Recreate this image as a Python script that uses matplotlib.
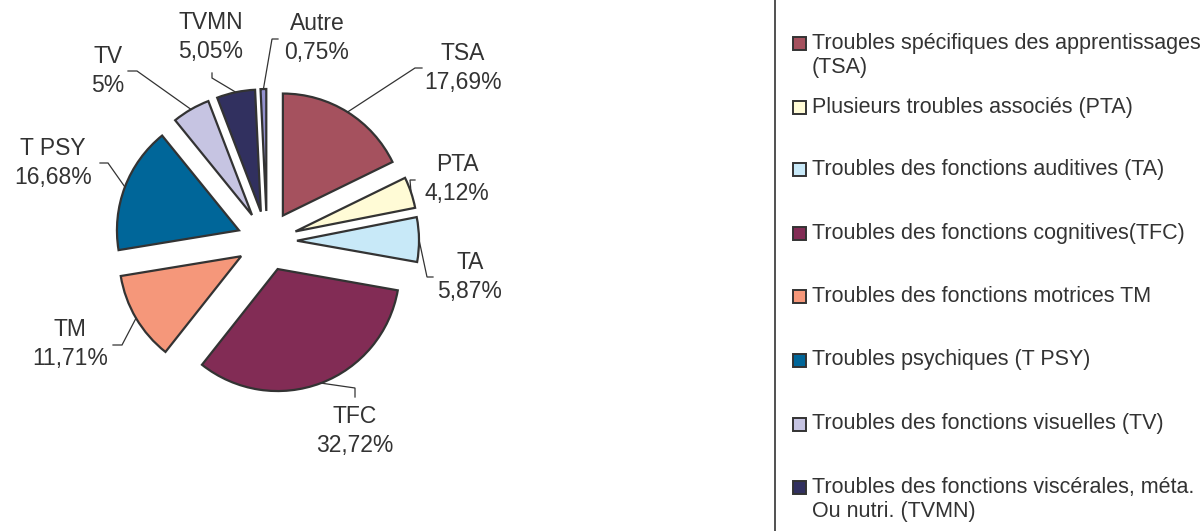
import numpy as np
import matplotlib
matplotlib.use("Agg")
import matplotlib.pyplot as plt
from matplotlib.patches import Rectangle

plt.rcParams['font.family'] = ['Liberation Sans', 'DejaVu Sans']

# data
codes = ['TSA', 'PTA', 'TA', 'TFC', 'TM', 'T PSY', 'TV', 'TVMN', 'Autre']
values = [17.69, 4.12, 5.87, 32.72, 11.71, 16.68, 5, 5.05, 0.75]
pct_labels = ['17,69%', '4,12%', '5,87%', '32,72%', '11,71%', '16,68%', '5%', '5,05%', '0,75%']
colors = ['#A5515E', '#FFFBD6', '#C8E9F8', '#822C55', '#F5977A',
          '#006699', '#C6C4E2', '#31305F', '#9391CE']
legend_names = ['Troubles spécifiques des apprentissages\n(TSA)',
                'Plusieurs troubles associés (PTA)',
                'Troubles des fonctions auditives (TA)',
                'Troubles des fonctions cognitives(TFC)',
                'Troubles des fonctions motrices TM',
                'Troubles psychiques (T PSY)',
                'Troubles des fonctions visuelles (TV)',
                'Troubles des fonctions viscérales, méta.\nOu nutri. (TVMN)']

W, H = 1204, 531
cx, cy = 267, 241      # pie centre (pixels, y down)
R = 122
EXP = 30               # explode distance, pixels

# label text centre and elbow of leader line (pixels, y down)
label_pos = [(463, 68), (457, 179), (470, 277), (355, 431), (70, 344),
             (53, 163), (108, 71), (211, 37), (317, 38)]
elbows = [[(415, 68), (422, 68)], [(410, 180), (415, 180)], [(427, 277), (433, 277)],
          [(355, 388), (355, 397)], [(122, 345), (113, 345)], [(108, 163), (100, 163)],
          [(137, 71), (128, 71)], [(212, 78), (212, 73)], [(272, 39), (278, 39)]]

fig = plt.figure(figsize=(W / 100, H / 100), dpi=100)
ax = fig.add_axes([0, 0, 1, 1])

# y axis inverted -> counterclock in data is clockwise on screen
ax.pie(values, colors=colors, startangle=-90, counterclock=True,
       center=(cx, cy), radius=R, explode=[EXP] * len(values),
       wedgeprops=dict(edgecolor='#333333', linewidth=1.6, joinstyle='miter'))
ax.set_xlim(0, W)
ax.set_ylim(H, 0)
ax.set_aspect('equal')
ax.axis('off')

total = sum(values)
start = -90.0
for i, v in enumerate(values):
    span = 360.0 * v / total
    mid = np.deg2rad(start + span / 2)
    start += span
    ox = cx + EXP * np.cos(mid)
    oy = cy + EXP * np.sin(mid)
    ex = ox + R * np.cos(mid)
    ey = oy + R * np.sin(mid)
    pts = [(ex, ey)] + elbows[i]
    ax.plot([p[0] for p in pts], [p[1] for p in pts], color='#333333', lw=0.9,
            solid_joinstyle='miter')
    ax.text(label_pos[i][0], label_pos[i][1], codes[i] + '\n' + pct_labels[i],
            ha='center', va='center', fontsize=16.5, color='#333333', linespacing=1.35)

# legend (frame extends beyond the picture)
ax.add_patch(Rectangle((775, -10), 600, H + 20, fill=False, edgecolor='#333333', lw=1.2))
leg_y = [43, 107, 169, 233, 296, 360, 424, 487]
for i, name in enumerate(legend_names):
    ax.add_patch(Rectangle((792.5, leg_y[i] - 6.5), 13, 13, facecolor=colors[i],
                           edgecolor='#333333', lw=1.4))
    ax.text(812, leg_y[i] - 10.5, name, ha='left', va='top', fontsize=15.5,
            color='#333333', linespacing=1.25)

fig.savefig('out.png', dpi=100)
